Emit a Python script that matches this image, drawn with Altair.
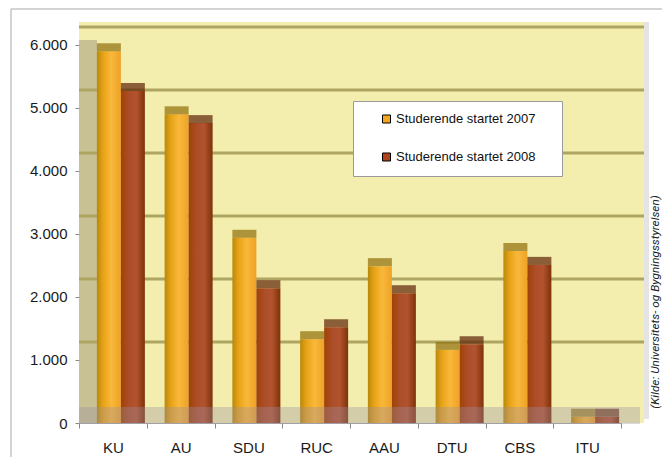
import altair as alt
import pandas as pd

categories = ["KU", "AU", "SDU", "RUC", "AAU", "DTU", "CBS", "ITU"]
s2007 = [5900, 4900, 2940, 1330, 2490, 1160, 2730, 100]
s2008 = [5270, 4760, 2140, 1520, 2060, 1250, 2510, 100]
series_names = ["Studerende startet 2007", "Studerende startet 2008"]
series_colors = ["#F5A623", "#B0441E"]
y_ticks = [0, 1000, 2000, 3000, 4000, 5000, 6000]
grid_values = [1000, 2000, 3000, 4000, 5000, 6000]
source_text = "(Kilde: Universitets- og Bygningsstyrelsen)"

W, H = 565, 401
FONT = "Liberation Sans"

rows = []
for c, a, b in zip(categories, s2007, s2008):
    rows.append({"cat": c, "series": series_names[0], "value": a})
    rows.append({"cat": c, "series": series_names[1], "value": b})
df = pd.DataFrame(rows)
grid_df = pd.DataFrame({"value": grid_values})
one = pd.DataFrame({"t": [source_text]})

x_enc = alt.X(
    "cat:N",
    sort=categories,
    scale=alt.Scale(domain=categories, range=[0, 542], paddingInner=0, paddingOuter=0),
    axis=alt.Axis(
        title=None, labelAngle=0, tickBand="extent", domainColor="#A8A8A8",
        tickColor="#888888", tickSize=5, labelPadding=12, labelFontSize=15,
        labelFont=FONT, labelColor="#1a1a1a",
    ),
)
y_scale = alt.Scale(domain=[0, 6365], nice=False, zero=True)
y_enc = alt.Y(
    "value:Q",
    scale=y_scale,
    axis=alt.Axis(
        title=None, values=y_ticks, grid=False, domain=False,
        labelExpr="replace(format(datum.value, ','), ',', '.')",
        tickColor="#888888", tickSize=4, labelPadding=8, labelFontSize=15,
        labelFont=FONT, labelColor="#1a1a1a",
    ),
)

base = alt.Chart(df)

left_wall = alt.Chart(one).mark_rect(color="#B3AE88", opacity=0.7).encode(
    x=alt.value(0), x2=alt.value(18), y=alt.value(18), y2=alt.value(H)
)
right_edge = alt.Chart(one).mark_rect(color="#E4E4E4").encode(
    x=alt.value(W), x2=alt.value(W + 5), y=alt.value(0), y2=alt.value(H - 4)
)

grid = alt.Chart(grid_df).mark_rule(color="#AFA563", strokeWidth=3, yOffset=-18).encode(
    y=y_enc
)

pad_label = "\u00a0" * 4 + "\u200b"

legend_layer = base.mark_point(shape="square", filled=True, opacity=0).encode(
    x=x_enc,
    y=y_enc,
    color=alt.Color(
        "series:N",
        scale=alt.Scale(domain=series_names, range=series_colors),
        legend=alt.Legend(
            title=None, orient="none", legendX=274, legendY=79,
            fillColor="white", strokeColor="#9A9A9A", padding=11.5,
            symbolOffset=15.5, rowPadding=24, symbolType="square", symbolSize=64,
            symbolStrokeColor="black", symbolStrokeWidth=1, symbolOpacity=1,
            labelFontSize=13, labelFont=FONT, labelColor="#111111", labelOffset=3,
            labelLimit=400,
            labelExpr="datum.label + '" + pad_label + "'",
        ),
    ),
)

grad07 = alt.LinearGradient(
    gradient="linear", x1=0, x2=1, y1=0, y2=0,
    stops=[
        alt.GradientStop(color="#B8880A", offset=0),
        alt.GradientStop(color="#E6A216", offset=0.25),
        alt.GradientStop(color="#F9B83A", offset=0.6),
        alt.GradientStop(color="#EEA226", offset=1),
    ],
)
grad08 = alt.LinearGradient(
    gradient="linear", x1=0, x2=1, y1=0, y2=0,
    stops=[
        alt.GradientStop(color="#A04204", offset=0),
        alt.GradientStop(color="#AC4E2A", offset=0.35),
        alt.GradientStop(color="#B2532E", offset=0.65),
        alt.GradientStop(color="#7E3208", offset=1),
    ],
)

bars07 = base.transform_filter(alt.datum.series == series_names[0]).mark_bar(
    width=24, xOffset=-4, color=grad07
).encode(x=x_enc, y=y_enc)
bars08 = base.transform_filter(alt.datum.series == series_names[1]).mark_bar(
    width=24, xOffset=20, color=grad08
).encode(x=x_enc, y=y_enc)

top07 = base.transform_filter(alt.datum.series == series_names[0]).mark_tick(
    size=24, thickness=8, xOffset=-4, yOffset=-4, color="#8E6E08"
).encode(x=x_enc, y=y_enc)
top08 = base.transform_filter(alt.datum.series == series_names[1]).mark_tick(
    size=24, thickness=8, xOffset=20, yOffset=-4, color="#5C2206"
).encode(x=x_enc, y=y_enc)

floor = alt.Chart(one).mark_rect(color="#9A90A4", opacity=0.35).encode(
    x=alt.value(0), x2=alt.value(W - 4), y=alt.value(H - 16), y2=alt.value(H + 1)
)

source = alt.Chart(one).mark_text(
    angle=270, font="Roboto", fontStyle="italic", fontSize=11.8,
    color="#222222", baseline="middle", align="center",
).encode(text="t:N", x=alt.value(576), y=alt.value(280))

frame_v = alt.Chart(one).mark_rule(color="#C4C4C4", strokeWidth=1.5).encode(
    x=alt.value(-68), y=alt.value(-13), y2=alt.value(H + 40)
)
frame_h = alt.Chart(one).mark_rule(color="#C4C4C4", strokeWidth=1.5).encode(
    x=alt.value(-68), x2=alt.value(W + 20), y=alt.value(-13)
)

chart = alt.layer(
    left_wall, right_edge, grid, legend_layer, bars07, bars08, top07, top08,
    floor, source, frame_v, frame_h,
).properties(
    width=W, height=H,
    autosize=alt.AutoSizeParams(type="none"),
    padding={"left": 71, "top": 14, "right": 18, "bottom": 34},
    background="white",
).configure_view(
    stroke=None, fill="#F3EEAD"
)

chart.save("out.html", embed_options={"renderer": "svg", "actions": False})
